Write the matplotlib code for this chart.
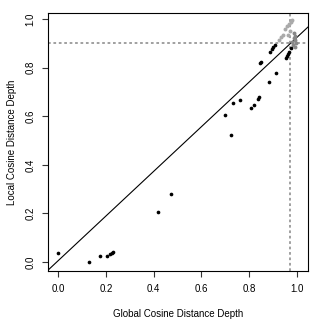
import matplotlib
matplotlib.use("Agg")
import matplotlib.pyplot as plt

plt.rcParams['font.family'] = ['Liberation Sans', 'DejaVu Sans']

# black points (global depth, local depth)
black_x = [0.001, 0.128, 0.176, 0.206, 0.218, 0.225, 0.231, 0.420, 0.473,
           0.699, 0.723, 0.732, 0.762, 0.809, 0.819, 0.837, 0.842,
           0.845, 0.849, 0.884, 0.911,
           0.887, 0.895, 0.900, 0.908,
           0.954, 0.958, 0.962, 0.967, 0.975]
black_y = [0.036, 0.001, 0.023, 0.023, 0.033, 0.037, 0.041, 0.207, 0.279,
           0.605, 0.521, 0.654, 0.667, 0.634, 0.647, 0.672, 0.680,
           0.818, 0.822, 0.740, 0.777,
           0.864, 0.877, 0.885, 0.893,
           0.840, 0.848, 0.856, 0.864, 0.881]

# light grey points
light_x = [0.925, 0.933, 0.941, 0.950, 0.958, 0.967, 0.975, 0.979, 0.971, 0.962]
light_y = [0.914, 0.926, 0.934, 0.959, 0.971, 0.979, 0.990, 0.998, 0.951, 0.934]

# dark grey points
dark_x = [0.987, 0.993, 0.990, 0.995, 0.983, 0.993, 0.986, 0.979]
dark_y = [0.942, 0.930, 0.914, 0.901, 0.893, 0.885, 0.922, 0.905]

# fitted line and cut-offs
line_intercept = 0.005
line_slope = 0.92
cut_x = 0.971
cut_y = 0.900

xticks = [0.0, 0.2, 0.4, 0.6, 0.8, 1.0]
yticks = [0.0, 0.2, 0.4, 0.6, 0.8, 1.0]

fig = plt.figure(figsize=(3.32, 3.32), dpi=100)
ax = fig.add_axes([48/332, 61/332, 260/332, 258/332])

ax.set_xlim(-0.042, 1.046)
ax.set_ylim(-0.037, 1.025)

ax.axline((0, line_intercept), slope=line_slope, color='black', lw=0.8, zorder=2)
ax.axvline(cut_x, color='#999999', lw=1.3, linestyle=(0, (1.5, 1.5)), zorder=1)
ax.axhline(cut_y, color='#999999', lw=1.3, linestyle=(0, (1.5, 1.5)), zorder=1)

ax.scatter(light_x, light_y, s=8, color='#aaaaaa', linewidths=0, zorder=3)
ax.scatter(dark_x, dark_y, s=8, color='#888888', linewidths=0, zorder=3)
ax.scatter(black_x, black_y, s=7, color='black', linewidths=0, zorder=4)

ax.set_xticks(xticks)
ax.set_yticks(yticks)
ax.set_xticklabels([f"{v:.1f}" for v in xticks])
ax.set_yticklabels([f"{v:.1f}" for v in yticks], rotation=90, va='center')
ax.tick_params(direction='out', length=4, width=0.8, labelsize=7, pad=5, color='#333333')
for sp in ax.spines.values():
    sp.set_linewidth(0.8)

ax.set_xlabel("Global Cosine Distance Depth", fontsize=7, labelpad=11)
ax.set_ylabel("Local Cosine Distance Depth", fontsize=7, labelpad=6)

fig.savefig("out.png", dpi=100)
